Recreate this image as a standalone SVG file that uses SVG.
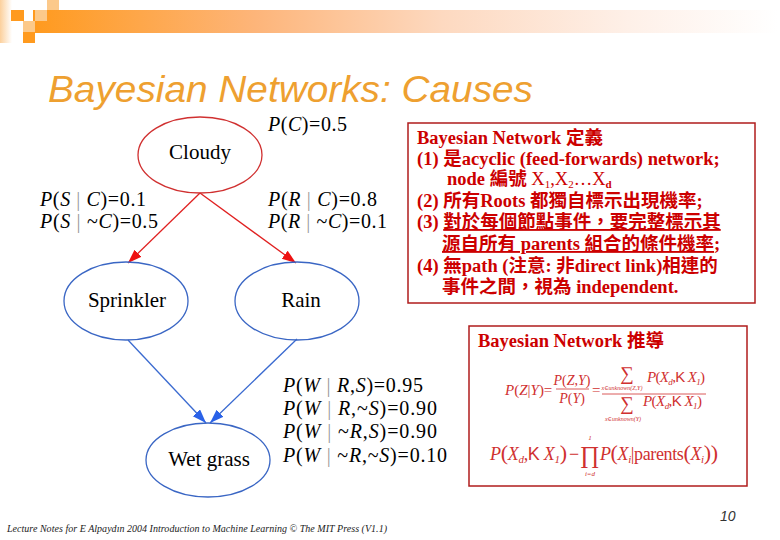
<svg xmlns="http://www.w3.org/2000/svg" width="780" height="540" viewBox="0 0 780 540">
<defs>
<linearGradient id="barGrad" x1="0" y1="0" x2="1" y2="0">
<stop offset="0" stop-color="#ff9a1e"/>
<stop offset="0.3" stop-color="#fdb57a"/>
<stop offset="0.55" stop-color="#fdd9c0"/>
<stop offset="0.8" stop-color="#fef0e8"/>
<stop offset="1" stop-color="#ffffff"/>
</linearGradient>
<linearGradient id="stripGrad" x1="0" y1="0" x2="1" y2="0">
<stop offset="0" stop-color="#fcd09c"/>
<stop offset="1" stop-color="#ffffff"/>
</linearGradient>
<marker id="arrRed" markerUnits="userSpaceOnUse" markerWidth="15" markerHeight="11" refX="14" refY="5" orient="auto">
<path d="M0,0 L14,5 L0,10 Z" fill="#ee1111"/>
</marker>
<marker id="arrBlue" markerUnits="userSpaceOnUse" markerWidth="15" markerHeight="11" refX="14" refY="5" orient="auto">
<path d="M0,0 L14,5 L0,10 Z" fill="#2a62e8"/>
</marker>
</defs>
<style>
.node-red{fill:none;stroke:#d03030;stroke-width:1.3}
.node-blue{fill:none;stroke:#3a66c4;stroke-width:1.3}
.ntxt{font-family:'Liberation Serif','DejaVu Serif',serif;font-size:21px;fill:#000;text-anchor:middle}
.lbl{font-family:'Liberation Serif','DejaVu Serif',serif;font-size:20px;fill:#000}
.it{font-style:italic}
.vb{fill:#999;font-style:normal}
.box{fill:#fff;stroke:#b01c1c;stroke-width:1.5}
.rt{font-family:'Liberation Serif','DejaVu Serif','Noto Sans CJK TC',serif;font-weight:bold;font-size:18.5px;fill:#cc0000}
.fm{font-family:'Liberation Serif','DejaVu Serif',serif;fill:#d03030;font-style:italic}
.up{font-style:normal}
.kk{font-family:'Liberation Sans',Arial,sans-serif;font-style:normal}
.redln{stroke:#e02020;stroke-width:1.3;fill:none}
.blueln{stroke:#3a6ad0;stroke-width:1.3;fill:none}
</style>
<rect width="780" height="540" fill="#fff"/>

<g id="decoration">
<rect x="0" y="0" width="12" height="43" fill="url(#stripGrad)"/>
<rect x="33" y="10" width="745" height="23" fill="url(#barGrad)"/>
<rect x="11" y="10" width="13" height="11" fill="#ff9a1e"/>
<rect x="35" y="10" width="12" height="11" fill="#fcc98a"/>
<rect x="47" y="0" width="12" height="10" fill="#fcc98a"/>
<rect x="23" y="21" width="12" height="11" fill="#fcc98a"/>
<rect x="23" y="32" width="12" height="11" fill="#ff9a1e"/>
</g>

<text id="title" x="48" y="102" font-family="Liberation Sans, Arial, sans-serif" font-style="italic" font-size="36" fill="#eea030" textLength="485" lengthAdjust="spacingAndGlyphs">Bayesian Networks: Causes</text>

<g id="connectors">
<line class="redln" x1="200" y1="193" x2="128" y2="263" marker-end="url(#arrRed)"/>
<line class="redln" x1="200" y1="193" x2="296" y2="263" marker-end="url(#arrRed)"/>
<line class="blueln" x1="128" y1="340" x2="206" y2="423" marker-end="url(#arrBlue)"/>
<line class="blueln" x1="297" y1="339" x2="210" y2="423" marker-end="url(#arrBlue)"/>
</g>

<g id="cloudy">
<ellipse class="node-red" cx="200" cy="155" rx="62" ry="38"/>
<text class="ntxt" x="200" y="159">Cloudy</text>
</g>
<g id="sprinkler">
<ellipse class="node-blue" cx="126" cy="301" rx="62" ry="39"/>
<text class="ntxt" x="127" y="307">Sprinkler</text>
</g>
<g id="rain">
<ellipse class="node-blue" cx="297" cy="301" rx="62" ry="39"/>
<text class="ntxt" x="301" y="307">Rain</text>
</g>
<g id="wetgrass">
<ellipse class="node-blue" cx="208" cy="460" rx="62" ry="37"/>
<text class="ntxt" x="209" y="466">Wet grass</text>
</g>

<g id="cpt-labels">
<text class="lbl" x="268" y="131" textLength="79"><tspan class="it">P</tspan>(<tspan class="it">C</tspan>)=0.5</text>
<text class="lbl" x="40" y="206" textLength="106"><tspan class="it">P</tspan>(<tspan class="it">S</tspan> <tspan class="vb">|</tspan> <tspan class="it">C</tspan>)=0.1</text>
<text class="lbl" x="40" y="228" textLength="118"><tspan class="it">P</tspan>(<tspan class="it">S</tspan> <tspan class="vb">|</tspan> ~<tspan class="it">C</tspan>)=0.5</text>
<text class="lbl" x="268" y="206" textLength="109"><tspan class="it">P</tspan>(<tspan class="it">R</tspan> <tspan class="vb">|</tspan> <tspan class="it">C</tspan>)=0.8</text>
<text class="lbl" x="268" y="228" textLength="119"><tspan class="it">P</tspan>(<tspan class="it">R</tspan> <tspan class="vb">|</tspan> ~<tspan class="it">C</tspan>)=0.1</text>
<text class="lbl" x="283" y="392" textLength="140"><tspan class="it">P</tspan>(<tspan class="it">W</tspan> <tspan class="vb">|</tspan> <tspan class="it">R</tspan>,<tspan class="it">S</tspan>)=0.95</text>
<text class="lbl" x="283" y="415" textLength="154"><tspan class="it">P</tspan>(<tspan class="it">W</tspan> <tspan class="vb">|</tspan> <tspan class="it">R</tspan>,~<tspan class="it">S</tspan>)=0.90</text>
<text class="lbl" x="283" y="438" textLength="154"><tspan class="it">P</tspan>(<tspan class="it">W</tspan> <tspan class="vb">|</tspan> ~<tspan class="it">R</tspan>,<tspan class="it">S</tspan>)=0.90</text>
<text class="lbl" x="283" y="462" textLength="164"><tspan class="it">P</tspan>(<tspan class="it">W</tspan> <tspan class="vb">|</tspan> ~<tspan class="it">R</tspan>,~<tspan class="it">S</tspan>)=0.10</text>
</g>

<g id="definition-box">
<rect class="box" x="408" y="123" width="347" height="180"/>
<text class="rt" x="417" y="144">Bayesian Network 定義</text>
<text class="rt" x="417" y="165">(1) 是acyclic (feed-forwards) network;</text>
<text class="rt" x="447" y="185">node 編號 <tspan font-weight="normal">X<tspan font-size="11" dy="3">1</tspan><tspan dy="-3">,X</tspan><tspan font-size="11" dy="3">2</tspan><tspan dy="-3">…X</tspan><tspan font-size="11" dy="3" font-weight="bold">d</tspan></tspan></text>
<text class="rt" x="417" y="207">(2) 所有Roots 都獨自標示出現機率;</text>
<text class="rt" x="417" y="228">(3) <tspan text-decoration="underline">對於每個節點事件，要完整標示其</tspan></text>
<text class="rt" x="442" y="250"><tspan text-decoration="underline">源自所有 parents 組合的條件機率</tspan>;</text>
<text class="rt" x="417" y="272">(4) 無path (注意: 非direct link)相連的</text>
<text class="rt" x="442" y="293">事件之間，視為 independent.</text>
</g>

<g id="inference-box">
<rect class="box" x="469" y="326" width="278" height="160"/>
<text class="rt" x="478" y="347">Bayesian Network 推導</text>
<text class="fm" x="505" y="395" font-size="15">P<tspan class="up">(</tspan>Z<tspan class="up">|</tspan>Y<tspan class="up">)=</tspan></text>
<text class="fm" x="572" y="385" font-size="14" text-anchor="middle">P<tspan class="up">(</tspan>Z<tspan class="up">,</tspan>Y<tspan class="up">)</tspan></text>
<line x1="556" y1="389" x2="589" y2="389" stroke="#d03030" stroke-width="0.8"/>
<text class="fm" x="572" y="403" font-size="14" text-anchor="middle">P<tspan class="up">(</tspan>Y<tspan class="up">)</tspan></text>
<text class="fm up" x="592" y="395" font-size="15">=</text>
<text class="fm up" x="627" y="380" font-size="19" text-anchor="middle">∑</text>
<text class="fm" x="622" y="390" font-size="6" text-anchor="middle">x∈unknown(Z,Y)</text>
<text class="fm" x="647" y="382" font-size="15" textLength="58">P<tspan class="up">(</tspan>X<tspan font-size="9" dy="3">d</tspan><tspan class="up" dy="-3">,</tspan><tspan class="kk">K</tspan> X<tspan font-size="9" dy="3">1</tspan><tspan class="up" dy="-3">)</tspan></text>
<line x1="602" y1="394" x2="706" y2="394" stroke="#d03030" stroke-width="0.8"/>
<text class="fm up" x="627" y="410" font-size="19" text-anchor="middle">∑</text>
<text class="fm" x="623" y="421" font-size="6" text-anchor="middle">x∈unknown(Y)</text>
<text class="fm" x="643" y="406" font-size="15" textLength="59">P<tspan class="up">(</tspan>X<tspan font-size="9" dy="3">d</tspan><tspan class="up" dy="-3">,</tspan><tspan class="kk">K</tspan> X<tspan font-size="9" dy="3">1</tspan><tspan class="up" dy="-3">)</tspan></text>
<text class="fm" x="490" y="460" font-size="18" textLength="77">P<tspan class="up" font-size="22">(</tspan>X<tspan font-size="11" dy="3">d</tspan><tspan class="up" dy="-3">,</tspan><tspan class="kk">K</tspan> X<tspan font-size="11" dy="3">1</tspan><tspan class="up" font-size="22" dy="-3">)</tspan></text>
<text class="fm up" x="569" y="460" font-size="18">−</text>
<text class="fm up" x="590" y="463" font-size="24" text-anchor="middle">∏</text>
<text class="fm" x="590" y="440" font-size="7" text-anchor="middle">1</text>
<text class="fm" x="590" y="476" font-size="7" text-anchor="middle">i=d</text>
<text class="fm" x="600" y="460" font-size="18" textLength="118">P<tspan class="up" font-size="22">(</tspan>X<tspan font-size="11" dy="3">i</tspan><tspan class="up" dy="-3">|parents</tspan><tspan class="up" font-size="22">(</tspan>X<tspan font-size="11" dy="3">i</tspan><tspan class="up" font-size="22" dy="-3">))</tspan></text>
</g>

<text id="page-number" x="720" y="521" font-family="Liberation Sans, Arial, sans-serif" font-style="italic" font-size="14" fill="#333">10</text>
<text id="footer" x="7" y="532" font-family="'Liberation Serif', 'DejaVu Serif', serif" font-style="italic" font-size="10" fill="#222" textLength="380">Lecture Notes for E Alpaydın 2004 Introduction to Machine Learning © The MIT Press (V1.1)</text>
</svg>
